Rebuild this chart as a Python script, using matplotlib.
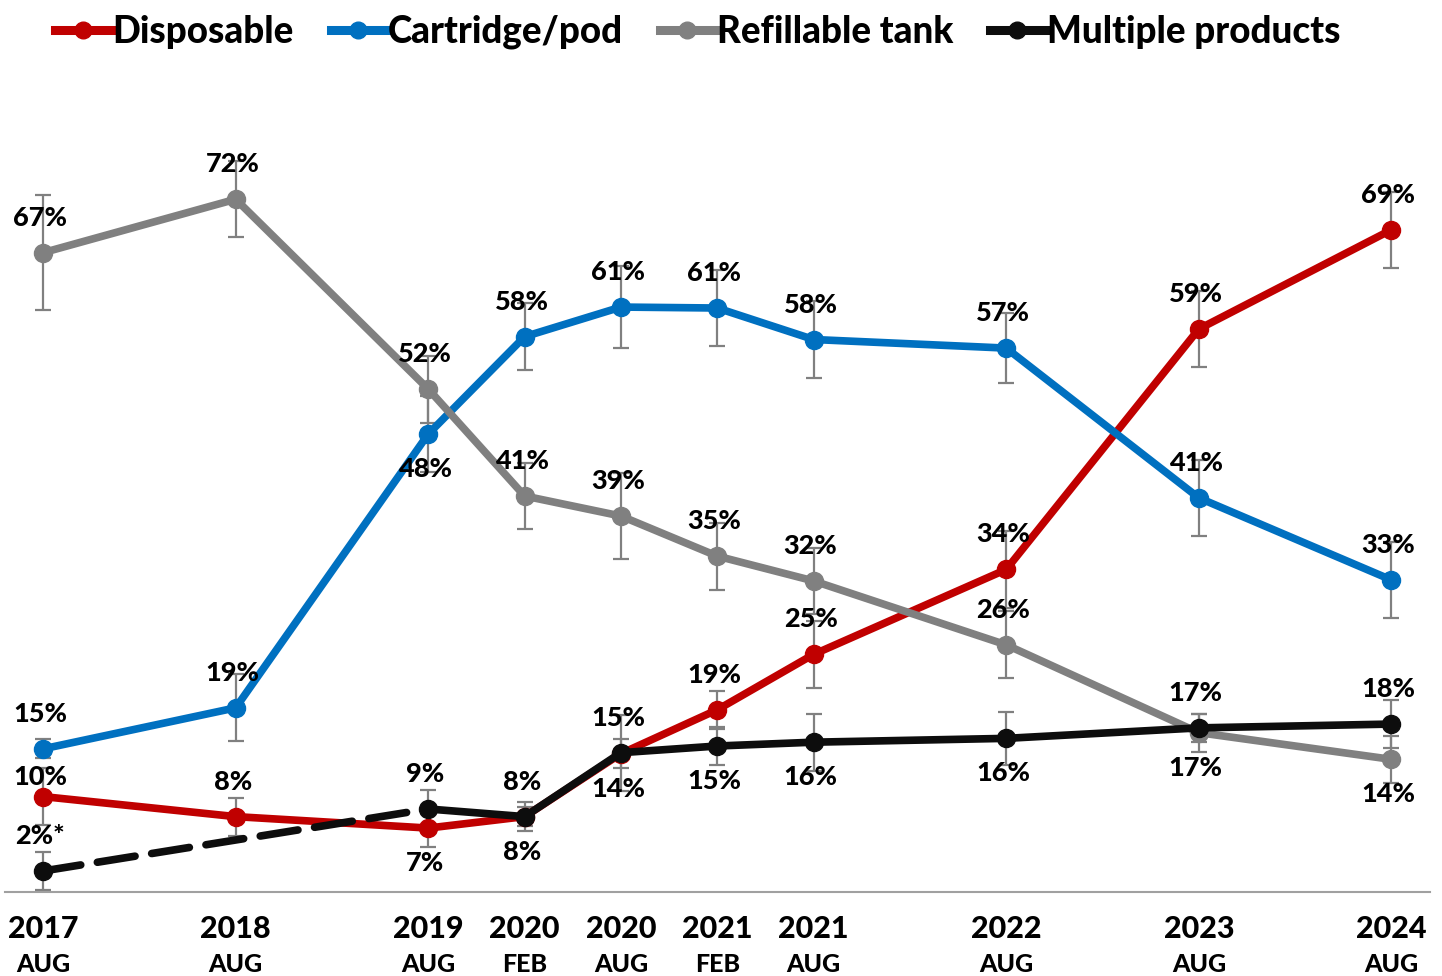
import numpy as np
import matplotlib
matplotlib.use("Agg")
import matplotlib.pyplot as plt
from matplotlib.lines import Line2D

plt.rcParams['font.family'] = ['Lato', 'DejaVu Sans']
plt.rcParams['font.weight'] = 'black'

# data (survey waves, half-year steps from Aug 2017)
wave_pos = [0, 2, 4, 5, 6, 7, 8, 10, 12, 14]
wave_year = ['2017', '2018', '2019', '2020', '2020', '2021', '2021', '2022', '2023', '2024']
wave_month = ['AUG', 'AUG', 'AUG', 'FEB', 'AUG', 'FEB', 'AUG', 'AUG', 'AUG', 'AUG']

disposable = [10, 7.9, 6.7, 7.9, 14.5, 19.1, 24.9, 33.8, 59.0, 69.4]
cartridge = [15, 19.3, 48.0, 58.2, 61.3, 61.2, 57.9, 57.0, 41.3, 32.7]
refillable = [67, 72.6, 52.7, 41.5, 39.4, 35.2, 32.6, 25.9, 16.7, 13.9]
multiple = [2.2, np.nan, 8.7, 7.9, 14.6, 15.3, 15.7, 16.1, 17.2, 17.6]

disposable_lbl = ['10%', '8%', '7%', '8%', '14%', '19%', '25%', '34%', '59%', '69%']
cartridge_lbl = ['15%', '19%', '48%', '58%', '61%', '61%', '58%', '57%', '41%', '33%']
refillable_lbl = ['67%', '72%', '52%', '41%', '39%', '35%', '32%', '26%', '17%', '14%']
multiple_lbl = ['2%*', '', '9%', '8%', '15%', '15%', '16%', '16%', '17%', '18%']

disposable_err = [3, 2, 2, 1.5, 1.5, 2, 3.5, 4, 4, 4]
cartridge_err = [1, 3.5, 4, 3.5, 4.3, 4, 4, 3.7, 4, 4]
refillable_err = [6, 4, 3.5, 3.5, 4.5, 3.5, 3.5, 3.5, 2, 2.5]
multiple_err = [2, np.nan, 2, 1, 4, 2, 3, 2.8, 1.5, 2.5]

RED = '#C00000'
BLUE = '#0070C0'
GRAY = '#808080'
BLACK = '#0D0D0D'

fig = plt.figure(figsize=(14.42, 9.76), dpi=100)
ax = fig.add_axes([5/1442, 84/976, 1425/1442, 792/976])
ax.set_xlim(-0.395, 14.4)
ax.set_ylim(0, 83)

x = np.array(wave_pos, dtype=float)

# 'a' = label above the point, 'b' = below
series = [
    (disposable, disposable_err, disposable_lbl, RED, 2,
     ['a', 'a', 'b', 'b', 'b', 'a', 'a', 'a', 'a', 'a']),
    (cartridge, cartridge_err, cartridge_lbl, BLUE, 3,
     ['a', 'a', 'b', 'a', 'a', 'a', 'a', 'a', 'a', 'a']),
    (refillable, refillable_err, refillable_lbl, GRAY, 4,
     ['a', 'a', 'a', 'a', 'a', 'a', 'a', 'a', 'b', 'b']),
    (multiple, multiple_err, multiple_lbl, BLACK, 5,
     ['a', 'a', 'a', 'a', 'a', 'b', 'b', 'b', 'a', 'a']),
]

for vals, errs, lbls, col, z, place in series:
    y = np.array(vals, dtype=float)
    e = np.array(errs, dtype=float)
    ok = ~np.isnan(y)
    ax.errorbar(x[ok], y[ok], yerr=e[ok], fmt='none', ecolor=GRAY,
                elinewidth=1.6, capsize=6, capthick=1.6, zorder=1)
    if col == BLACK:
        xv, yv = x[ok], y[ok]
        ax.plot(xv[:2], yv[:2], color=col, lw=5.5, ls=(0, (5, 2.2)), zorder=z,
                dash_capstyle='round')
        ax.plot(xv[1:], yv[1:], color=col, lw=5.5, zorder=z)
        ax.plot(xv, yv, 'o', color=col, ms=13, zorder=z)
    else:
        ax.plot(x, y, '-o', color=col, lw=5.5, ms=13, zorder=z)
    for xi, yi, t, p in zip(x, y, lbls, place):
        if not t:
            continue
        dy = 35 if p == 'a' else -35
        if t == '10%':
            dy = 20
        ax.annotate(t, (xi, yi), textcoords='offset pixels', xytext=(-3, dy),
                    ha='center', va='center', fontsize=19.5, fontweight='black',
                    color='black', zorder=10)

# x axis labels
for xi, yr, mo in zip(x, wave_year, wave_month):
    ax.annotate(yr, (xi, 0), xycoords=('data', 'axes fraction'),
                textcoords='offset pixels', xytext=(0, -37), ha='center', va='center',
                fontsize=22, fontweight='black', annotation_clip=False)
    ax.annotate(mo, (xi, 0), xycoords=('data', 'axes fraction'),
                textcoords='offset pixels', xytext=(0, -72), ha='center', va='center',
                fontsize=18, fontweight='black', annotation_clip=False)

for s in ['top', 'right', 'left']:
    ax.spines[s].set_visible(False)
ax.spines['bottom'].set_color('#A0A0A0')
ax.spines['bottom'].set_linewidth(1.5)
ax.set_xticks([])
ax.set_yticks([])

handles = [Line2D([], [], color=c, lw=6.5, marker='o', ms=12) for c in [RED, BLUE, GRAY, BLACK]]
names = ['Disposable', 'Cartridge/pod', 'Refillable tank', 'Multiple products']
fig.legend(handles, names, loc='center', bbox_to_anchor=(0.484, 1 - 32/976), ncol=4,
           frameon=False, handlelength=1.5, handletextpad=0.05,
           columnspacing=1.0, prop={'weight': 'black', 'size': 26.5})

fig.savefig('out.png', dpi=100)
